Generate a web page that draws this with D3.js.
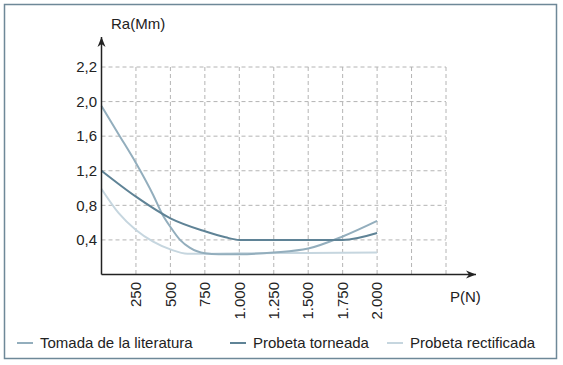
<!DOCTYPE html>
<html>
<head>
<meta charset="utf-8">
<script src="https://cdn.jsdelivr.net/npm/d3@7"></script>
<style>
  body { margin: 0; background: #fff; }
  text { font-family: "Liberation Sans", Arial, sans-serif; fill: #222; }
</style>
</head>
<body>
<div id="chart"></div>
<script>
// data
const seriesNames = ["Tomada de la literatura", "Probeta torneada", "Probeta rectificada"]
const tomadaP = [0, 125, 250, 375, 440, 500, 570, 640, 750, 850, 1000, 1250, 1500, 1750, 2000]
const tomadaRa = [1.95, 1.62, 1.29, 0.92, 0.70, 0.55, 0.40, 0.31, 0.245, 0.235, 0.235, 0.255, 0.30, 0.44, 0.62]
const torneadaP = [0, 250, 500, 750, 900, 1000, 1250, 1500, 1750, 2000]
const torneadaRa = [1.2, 0.90, 0.65, 0.50, 0.43, 0.40, 0.40, 0.40, 0.40, 0.48]
const rectifP = [0, 125, 250, 375, 500, 625, 750, 1000, 1500, 2000]
const rectifRa = [0.99, 0.71, 0.515, 0.38, 0.29, 0.24, 0.24, 0.245, 0.25, 0.255]
const xTicks = [250, 500, 750, 1000, 1250, 1500, 1750, 2000, 2250, 2500]
const xTickLabels = ["250", "500", "750", "1.000", "1.250", "1.500", "1.750", "2.000", "", ""]
const yTicks = [0.4, 0.8, 1.2, 1.6, 2.0, 2.4]
const yTickLabels = ["0,4", "0,8", "1,2", "1,6", "2,0", "2,2"]
const colors = ["#93aebd", "#5f8396", "#c6d6df"]

const W = 563, H = 365
const svg = d3.select("#chart").append("svg")
  .attr("width", W).attr("height", H)

// frame
svg.append("rect")
  .attr("x", 4.5).attr("y", 4.5)
  .attr("width", 552).attr("height", 354)
  .attr("fill", "none")
  .attr("stroke", "#6e8898")
  .attr("stroke-width", 1.5)

const x = d3.scaleLinear().domain([0, 2500]).range([101.5, 446])
const y = d3.scaleLinear().domain([0, 2.4]).range([274.5, 67])

// grid
const grid = svg.append("g")
  .attr("stroke", "#b4b4b4")
  .attr("stroke-width", 1)
  .attr("stroke-dasharray", "4,3")
grid.selectAll(".gx").data(xTicks).enter().append("line")
  .attr("x1", d => x(d)).attr("x2", d => x(d))
  .attr("y1", y(2.4)).attr("y2", y(0))
grid.selectAll(".gy").data(yTicks).enter().append("line")
  .attr("x1", x(0)).attr("x2", x(2500))
  .attr("y1", d => y(d)).attr("y2", d => y(d))

// series
const line = d3.line()
  .x(d => x(d[0]))
  .y(d => y(d[1]))
  .curve(d3.curveMonotoneX)

const series = [
  d3.zip(tomadaP, tomadaRa),
  d3.zip(torneadaP, torneadaRa),
  d3.zip(rectifP, rectifRa),
]
// draw the lightest first so the darker lines sit on top
;[2, 0, 1].forEach(i => {
  svg.append("path")
    .datum(series[i])
    .attr("fill", "none")
    .attr("stroke", colors[i])
    .attr("stroke-width", 2)
    .attr("d", line)
})

// axes with arrows
svg.append("defs").append("marker")
  .attr("id", "arrow")
  .attr("viewBox", "0 0 10 10")
  .attr("refX", 10).attr("refY", 5)
  .attr("markerWidth", 10).attr("markerHeight", 10)
  .attr("markerUnits", "userSpaceOnUse")
  .attr("orient", "auto")
  .append("path")
  .attr("d", "M0,1 L10,5 L0,9 L3,5 Z")
  .attr("fill", "#222")

svg.append("line")
  .attr("x1", x(0)).attr("y1", y(0))
  .attr("x2", 476).attr("y2", y(0))
  .attr("stroke", "#222").attr("stroke-width", 1.5)
  .attr("marker-end", "url(#arrow)")
svg.append("line")
  .attr("x1", x(0)).attr("y1", y(0))
  .attr("x2", x(0)).attr("y2", 37)
  .attr("stroke", "#222").attr("stroke-width", 1.5)
  .attr("marker-end", "url(#arrow)")

// tick labels
svg.selectAll(".yl").data(yTicks).enter().append("text")
  .attr("x", 97)
  .attr("y", d => y(d))
  .attr("dy", "0.35em")
  .attr("text-anchor", "end")
  .style("font-size", "15px")
  .text((d, i) => yTickLabels[i])

svg.selectAll(".xl").data(xTicks).enter().append("text")
  .attr("transform", d => `translate(${x(d)},282) rotate(-90)`)
  .attr("dy", "0.35em")
  .attr("text-anchor", "end")
  .style("font-size", "15px")
  .text((d, i) => xTickLabels[i])

svg.append("text")
  .attr("x", 111).attr("y", 29)
  .style("font-size", "15px")
  .text("Ra(Mm)")
svg.append("text")
  .attr("x", 450).attr("y", 302)
  .style("font-size", "15px")
  .text("P(N)")

// legend
const legendX = [17, 230, 387]
const lg = svg.selectAll(".lg").data(seriesNames).enter().append("g")
  .attr("transform", (d, i) => `translate(${legendX[i]},343)`)
lg.append("line")
  .attr("x1", 0).attr("x2", 16)
  .attr("stroke", (d, i) => colors[i])
  .attr("stroke-width", 2)
lg.append("text")
  .attr("x", 23)
  .attr("dy", "0.35em")
  .style("font-size", "15px")
  .text(d => d)
</script>
</body>
</html>
